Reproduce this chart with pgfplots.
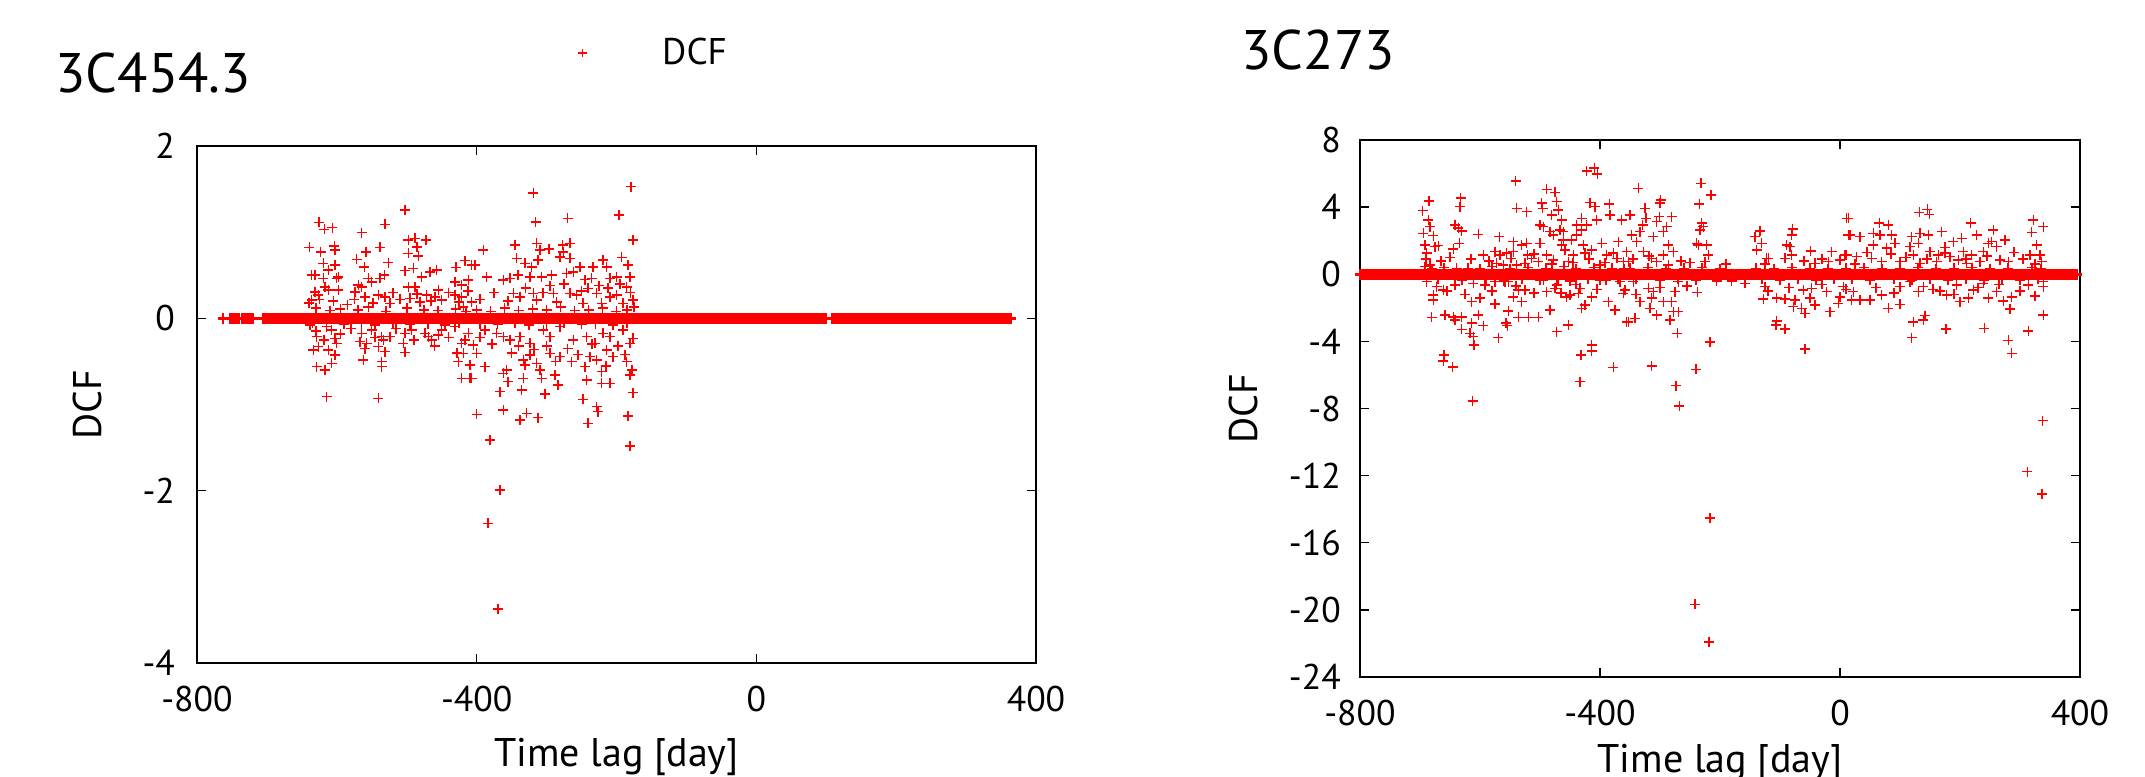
\documentclass[border=0pt]{standalone}
\usepackage{fontspec}
\setmainfont{PT Sans}
\usepackage{pgfplots}
\pgfplotsset{compat=1.18}
\definecolor{dcfred}{RGB}{255,0,0}
\begin{document}
\begin{tikzpicture}[x=1pt,y=1pt]
\pgfplotsset{
  dcfstyle/.style={
    scale only axis,
    axis line style={line width=0.5pt},
    tick align=inside, tick pos=both,
    major tick length=3pt,
    every tick/.style={black,line width=0.5pt},
    xmin=-800,xmax=400, xtick={-800,-400,0,400},
    tick label style={font=\fontsize{12.5}{14}\selectfont},
    /pgf/number format/assume math mode=true,
    xticklabel style={yshift=-4.5pt},
    label style={font=\fontsize{14}{16}\selectfont},
    xlabel={Time lag [day]},
    ylabel={DCF},
  },
  dcfmark/.style={only marks, mark=+, mark size=1.75pt, color=dcfred, mark options={line width=0.55pt}},
  dcfband/.style={only marks, mark=+, mark size=1.85pt, color=dcfred, mark options={line width=0.9pt}, forget plot},
}
\begin{axis}[dcfstyle,
  at={(68.95pt,39.55pt)}, anchor=south west, width=293.65pt, height=180.95pt,
  ymin=-4, ymax=2, ytick={-4,-2,0,2},
  yticklabel style={xshift=-4.2pt},
  ylabel style={at={(axis description cs:-0.13,0.5)}, anchor=center},
  xlabel style={at={(axis description cs:0.5,-0.2)}, anchor=base},
  legend style={at={(axis description cs:0.4289,1.18)}, anchor=west, draw=none, fill=none,
    inner sep=0pt, nodes={inner sep=1pt}, font=\fontsize{13}{15}\selectfont},
  legend image code/.code={\path (0cm,0cm) (1.24cm,0cm); \draw[#1, mark size=1.45pt, mark options={line width=0.45pt}] plot coordinates {(0.3cm,0cm)};},
]
\addplot[dcfband] coordinates {
(-763,0)(-752,0)(-749,0)(-746,0)(-743,0)(-740,0)(-735,0)(-732,0)(-729,0)(-726,0)(-723,0)(-720,0)
(-705,0)(-702,0)(-699,0)(-696,0)(-693,0)(-690,0)(-687,0)(-684,0)(-681,0)(-678,0)
(-675,0)(-672,0)(-669,0)(-666,0)(-663,0)(-660,0)(-657,0)(-654,0)(-651,0)(-648,0)
(-645,0)(-642,0)(-639,0)(-636,0)(-633,0)(-630,0)(-627,0)(-624,0)(-621,0)(-618,0)
(-615,0)(-612,0)(-609,0)(-606,0)(-603,0)(-600,0)(-597,0)(-594,0)(-591,0)(-588,0)
(-585,0)(-582,0)(-579,0)(-576,0)(-573,0)(-570,0)(-567,0)(-564,0)(-561,0)(-558,0)
(-555,0)(-552,0)(-549,0)(-546,0)(-543,0)(-540,0)(-537,0)(-534,0)(-531,0)(-528,0)
(-525,0)(-522,0)(-519,0)(-516,0)(-513,0)(-510,0)(-507,0)(-504,0)(-501,0)(-498,0)
(-495,0)(-492,0)(-489,0)(-486,0)(-483,0)(-480,0)(-477,0)(-474,0)(-471,0)(-468,0)
(-465,0)(-462,0)(-459,0)(-456,0)(-453,0)(-450,0)(-447,0)(-444,0)(-441,0)(-438,0)
(-435,0)(-432,0)(-429,0)(-426,0)(-423,0)(-420,0)(-417,0)(-414,0)(-411,0)(-408,0)
(-405,0)(-402,0)(-399,0)(-396,0)(-393,0)(-390,0)(-387,0)(-384,0)(-381,0)(-378,0)
(-375,0)(-372,0)(-369,0)(-366,0)(-363,0)(-360,0)(-357,0)(-354,0)(-351,0)(-348,0)
(-345,0)(-342,0)(-339,0)(-336,0)(-333,0)(-330,0)(-327,0)(-324,0)(-321,0)(-318,0)
(-315,0)(-312,0)(-309,0)(-306,0)(-303,0)(-300,0)(-297,0)(-294,0)(-291,0)(-288,0)
(-285,0)(-282,0)(-279,0)(-276,0)(-273,0)(-270,0)(-267,0)(-264,0)(-261,0)(-258,0)
(-255,0)(-252,0)(-249,0)(-246,0)(-243,0)(-240,0)(-237,0)(-234,0)(-231,0)(-228,0)
(-225,0)(-222,0)(-219,0)(-216,0)(-213,0)(-210,0)(-207,0)(-204,0)(-201,0)(-198,0)
(-195,0)(-192,0)(-189,0)(-186,0)(-183,0)(-180,0)(-177,0)(-174,0)(-171,0)(-168,0)
(-165,0)(-162,0)(-159,0)(-156,0)(-153,0)(-150,0)(-147,0)(-144,0)(-141,0)(-138,0)
(-135,0)(-132,0)(-129,0)(-126,0)(-123,0)(-120,0)(-117,0)(-114,0)(-111,0)(-108,0)
(-105,0)(-102,0)(-99,0)(-96,0)(-93,0)(-90,0)(-87,0)(-84,0)(-81,0)(-78,0)
(-75,0)(-72,0)(-69,0)(-66,0)(-63,0)(-60,0)(-57,0)(-54,0)(-51,0)(-48,0)
(-45,0)(-42,0)(-39,0)(-36,0)(-33,0)(-30,0)(-27,0)(-24,0)(-21,0)(-18,0)
(-15,0)(-12,0)(-9,0)(-6,0)(-3,0)(0,0)(3,0)(6,0)(9,0)(12,0)
(15,0)(18,0)(21,0)(24,0)(27,0)(30,0)(33,0)(36,0)(39,0)(42,0)
(45,0)(48,0)(51,0)(54,0)(57,0)(60,0)(63,0)(66,0)(69,0)(72,0)
(75,0)(78,0)(81,0)(84,0)(87,0)(90,0)(93,0)(96,0)(99,0)
(109,0)(112,0)(115,0)(118,0)(121,0)(124,0)(127,0)(130,0)(133,0)(136,0)
(139,0)(142,0)(145,0)(148,0)(151,0)(154,0)(157,0)(160,0)(163,0)(166,0)
(169,0)(172,0)(175,0)(178,0)(181,0)(184,0)(187,0)(190,0)(193,0)(196,0)
(199,0)(202,0)(205,0)(208,0)(211,0)(214,0)(217,0)(220,0)(223,0)(226,0)
(229,0)(232,0)(235,0)(238,0)(241,0)(244,0)(247,0)(250,0)(253,0)(256,0)
(259,0)(262,0)(265,0)(268,0)(271,0)(274,0)(277,0)(280,0)(283,0)(286,0)
(289,0)(292,0)(295,0)(298,0)(301,0)(304,0)(307,0)(310,0)(313,0)(316,0)
(319,0)(322,0)(325,0)(328,0)(331,0)(334,0)(337,0)(340,0)(343,0)(346,0)
(349,0)(352,0)(355,0)(358,0)(361,0)(364,0)
};
\addplot[dcfmark] coordinates {
(-502.5,1.257)(-625.5,1.114)(-617.9,1.033)(-606.4,1.052)(-564.5,0.994)(-531.1,1.091)(-639.3,0.824)(-623.1,0.773)(-602.6,0.793)(-603.5,0.839)(-558.3,0.773)(-538.2,0.824)(-497.7,0.909)(-488.2,0.928)(-472.5,0.909)(-485.3,0.831)(-483.4,0.723)(-497.7,0.754)(-571.6,0.684)(-526.3,0.646)(-560.6,0.599)(-416.7,0.669)(-429.6,0.592)(-407.1,0.619)(-619.3,0.638)(-602.6,0.619)(-612.1,0.561)(-636,0.503)(-631.2,0.503)(-619.3,0.464)(-597.8,0.483)(-600.2,0.464)(-532,0.503)(-538.2,0.464)(-554.9,0.464)(-502.5,0.553)(-490.6,0.58)(-478.7,0.483)(-466.7,0.541)(-457.2,0.561)(-569.2,0.387)(-564.5,0.367)(-550.2,0.425)(-616.9,0.367)(-612.1,0.329)(-597.8,0.329)(-631.2,0.309)(-626.4,0.27)(-636,0.212)(-574,0.309)(-559.7,0.251)(-540.6,0.27)(-531.1,0.251)(-524,0.174)(-497.7,0.367)(-488.2,0.367)(-495.3,0.232)(-481,0.193)(-471.5,0.27)(-459.6,0.251)(-454.8,0.329)(-450,0.212)(-431,0.425)(-421.4,0.387)(-411.9,0.445)(-431,0.27)(-421.4,0.251)(-407.1,0.193)(-419,0.135)
(-630,0.12)(-610,0.09)(-595,0.11)(-570,0.1)(-555,0.13)(-530,0.08)(-500,0.12)(-475,0.1)(-455,0.09)(-430,0.11)(-415,0.08)
(-638.3,-0.078)(-628.8,-0.213)(-626.4,-0.329)(-633.6,-0.368)(-612.1,-0.368)(-602.6,-0.232)(-600.2,-0.29)(-614.5,-0.097)(-607.4,-0.136)(-602.6,-0.426)(-628.8,-0.561)(-616.9,-0.6)(-607.4,-0.522)(-614.5,-0.909)(-540.6,-0.929)(-564.5,-0.174)(-566.8,-0.271)(-557.3,-0.29)(-540.6,-0.329)(-535.9,-0.213)(-524,-0.213)(-533.5,-0.252)(-531.1,-0.387)(-562.1,-0.484)(-535.9,-0.503)(-535.9,-0.561)(-550.2,-0.136)(-502.5,-0.174)(-504.9,-0.29)(-502.5,-0.395)(-493,-0.136)(-473.9,-0.174)(-469.1,-0.213)(-464.4,-0.252)(-454.8,-0.194)(-450,-0.136)(-431,-0.097)(-421.4,-0.29)(-416.7,-0.252)(-411.9,-0.174)(-419,-0.406)(-426.2,-0.503)(-409.5,-0.542)(-421.4,-0.697)(-407.1,-0.697)
(-635,-0.05)(-615,-0.06)(-590,-0.07)(-565,-0.05)(-545,-0.08)(-520,-0.06)(-495,-0.07)(-470,-0.06)(-445,-0.08)(-425,-0.05)
(-319,1.458)(-179.4,1.528)(-315.7,1.121)(-269.9,1.16)(-196.5,1.199)(-176,0.909)(-390.5,0.793)(-345.2,0.851)(-314.3,0.87)(-309.5,0.793)(-296.6,0.804)(-277.1,0.851)(-276.1,0.773)(-266.6,0.87)(-280.9,0.715)(-266.6,0.696)(-402.4,0.619)(-342.9,0.696)(-331,0.638)(-321.4,0.599)(-311.9,0.677)(-385.8,0.483)(-361.9,0.445)(-352.4,0.464)(-340.5,0.503)(-323.8,0.483)(-307.1,0.483)(-292.8,0.503)(-271.4,0.522)(-261.8,0.541)(-252.3,0.599)(-233.2,0.599)(-218.9,0.677)(-214.2,0.599)(-192.7,0.708)(-183.2,0.619)(-235.6,0.464)(-209.4,0.464)(-199.8,0.483)(-180.8,0.483)(-347.6,0.29)(-338.1,0.251)(-319,0.29)(-314.3,0.212)(-290.4,0.29)(-285.7,0.193)(-266.6,0.29)(-257.1,0.27)(-247.5,0.174)(-240.4,0.348)(-228.5,0.29)(-221.3,0.174)(-209.4,0.251)(-199.8,0.27)(-190.3,0.174)(-176,0.212)(-174.6,0.135)(-185.5,0.367)
(-400,0.1)(-380,0.08)(-360,0.12)(-340,0.09)(-320,0.11)(-300,0.1)(-280,0.13)(-260,0.09)(-240,0.1)(-220,0.12)(-200,0.08)(-185,0.1)
(-388.1,-0.136)(-371.5,-0.174)(-361.9,-0.213)(-352.4,-0.252)(-338.1,-0.213)(-323.8,-0.29)(-304.7,-0.136)(-295.2,-0.213)(-280.9,-0.097)(-261.8,-0.252)(-242.8,-0.213)(-230.8,-0.29)(-218.9,-0.174)(-209.4,-0.213)(-190.3,-0.136)(-180.8,-0.29)(-176,-0.232)(-404.8,-0.31)(-400.1,-0.406)(-388.1,-0.561)(-361.9,-0.638)(-357.2,-0.6)(-333.3,-0.484)(-330.9,-0.542)(-323.8,-0.426)(-314.3,-0.522)(-309.5,-0.6)(-295.2,-0.406)(-280.9,-0.445)(-264.2,-0.503)(-245.1,-0.561)(-238,-0.445)(-228.5,-0.484)(-221.3,-0.619)(-214.2,-0.368)(-204.6,-0.445)(-185.5,-0.503)(-409.6,-0.697)(-354.8,-0.735)(-333.3,-0.697)(-307.1,-0.697)(-288,-0.658)(-283.3,-0.774)(-242.8,-0.716)(-221.3,-0.755)(-209.4,-0.755)(-180.8,-0.658)(-366.7,-0.851)(-335.7,-0.832)(-302.3,-0.878)(-247.5,-0.94)(-176,-0.863)(-400.1,-1.114)(-361.9,-1.064)(-328.6,-1.103)(-338.1,-1.18)(-311.9,-1.153)(-228.5,-1.025)(-226.1,-1.083)(-240.4,-1.219)(-183.2,-1.134)
(-395,-0.06)(-370,-0.07)(-345,-0.05)(-325,-0.08)(-300,-0.06)(-275,-0.05)(-250,-0.07)(-230,-0.06)(-205,-0.08)(-185,-0.05)
(-381,-1.41)(-367,-1.99)(-384,-2.38)(-369.5,-3.37)(-180.7,-1.48)
(-640,0.18)(-625,0.22)(-605,0.2)(-585,0.16)(-575,0.22)(-548,0.18)(-520,0.3)(-510,0.22)(-485,0.28)(-465,0.2)(-440,0.3)(-425,0.19)(-412,0.32)
(-395,0.22)(-375,0.3)(-355,0.2)(-330,0.35)(-305,0.3)(-295,0.38)(-275,0.4)(-250,0.32)(-245,0.45)(-225,0.38)(-212,0.35)(-195,0.4)(-180,0.3)
(-395,-0.22)(-378,-0.3)(-350,-0.4)(-340,-0.32)(-318,-0.36)(-300,-0.32)(-287,-0.5)(-270,-0.35)(-255,-0.42)(-235,-0.3)(-215,-0.55)(-198,-0.32)(-188,-0.42)(-178,-0.6)
(-630,-0.15)(-618,-0.25)(-595,-0.18)(-580,-0.12)(-560,-0.35)(-545,-0.22)(-515,-0.12)(-490,-0.25)(-460,-0.32)(-440,-0.22)(-428,-0.4)
};
\addlegendentry{DCF}
\end{axis}
\begin{axis}[dcfstyle,
  at={(476pt,34.65pt)}, anchor=south west, width=252pt, height=187.95pt,
  ymin=-24, ymax=8, ytick={-24,-20,-16,-12,-8,-4,0,4,8},
  yticklabel style={xshift=-3.2pt},
  ylabel style={at={(axis description cs:-0.1625,0.5)}, anchor=center},
  xlabel style={at={(axis description cs:0.5,-0.178)}, anchor=base},
]
\addplot[dcfband] coordinates {
(-800,0)(-797,0)(-794,0)(-791,0)(-788,0)(-785,0)(-782,0)(-779,0)(-776,0)(-773,0)
(-770,0)(-767,0)(-764,0)(-761,0)(-758,0)(-755,0)(-752,0)(-749,0)(-746,0)(-743,0)
(-740,0)(-737,0)(-734,0)(-731,0)(-728,0)(-725,0)(-722,0)(-719,0)(-716,0)(-713,0)
(-710,0)(-707,0)(-704,0)(-701,0)(-698,0)(-695,0)(-692,0)(-689,0)(-686,0)(-683,0)
(-680,0)(-677,0)(-674,0)(-671,0)(-668,0)(-665,0)(-662,0)(-659,0)(-656,0)(-653,0)
(-650,0)(-647,0)(-644,0)(-641,0)(-638,0)(-635,0)(-632,0)(-629,0)(-626,0)(-623,0)
(-620,0)(-617,0)(-614,0)(-611,0)(-608,0)(-605,0)(-602,0)(-599,0)(-596,0)(-593,0)
(-590,0)(-587,0)(-584,0)(-581,0)(-578,0)(-575,0)(-572,0)(-569,0)(-566,0)(-563,0)
(-560,0)(-557,0)(-554,0)(-551,0)(-548,0)(-545,0)(-542,0)(-539,0)(-536,0)(-533,0)
(-530,0)(-527,0)(-524,0)(-521,0)(-518,0)(-515,0)(-512,0)(-509,0)(-506,0)(-503,0)
(-500,0)(-497,0)(-494,0)(-491,0)(-488,0)(-485,0)(-482,0)(-479,0)(-476,0)(-473,0)
(-470,0)(-467,0)(-464,0)(-461,0)(-458,0)(-455,0)(-452,0)(-449,0)(-446,0)(-443,0)
(-440,0)(-437,0)(-434,0)(-431,0)(-428,0)(-425,0)(-422,0)(-419,0)(-416,0)(-413,0)
(-410,0)(-407,0)(-404,0)(-401,0)(-398,0)(-395,0)(-392,0)(-389,0)(-386,0)(-383,0)
(-380,0)(-377,0)(-374,0)(-371,0)(-368,0)(-365,0)(-362,0)(-359,0)(-356,0)(-353,0)
(-350,0)(-347,0)(-344,0)(-341,0)(-338,0)(-335,0)(-332,0)(-329,0)(-326,0)(-323,0)
(-320,0)(-317,0)(-314,0)(-311,0)(-308,0)(-305,0)(-302,0)(-299,0)(-296,0)(-293,0)
(-290,0)(-287,0)(-284,0)(-281,0)(-278,0)(-275,0)(-272,0)(-269,0)(-266,0)(-263,0)
(-260,0)(-257,0)(-254,0)(-251,0)(-248,0)(-245,0)(-242,0)(-239,0)(-236,0)(-233,0)
(-230,0)(-227,0)(-224,0)(-221,0)(-218,0)(-215,0)(-212,0)(-209,0)(-206,0)(-203,0)
(-200,0)(-197,0)(-194,0)(-191,0)(-188,0)(-185,0)(-182,0)(-179,0)(-176,0)(-173,0)
(-170,0)(-167,0)(-164,0)(-161,0)(-158,0)(-155,0)(-152,0)(-149,0)(-146,0)(-143,0)
(-140,0)(-137,0)(-134,0)(-131,0)(-128,0)(-125,0)(-122,0)(-119,0)(-116,0)(-113,0)
(-110,0)(-107,0)(-104,0)(-101,0)(-98,0)(-95,0)(-92,0)(-89,0)(-86,0)(-83,0)
(-80,0)(-77,0)(-74,0)(-71,0)(-68,0)(-65,0)(-62,0)(-59,0)(-56,0)(-53,0)
(-50,0)(-47,0)(-44,0)(-41,0)(-38,0)(-35,0)(-32,0)(-29,0)(-26,0)(-23,0)
(-20,0)(-17,0)(-14,0)(-11,0)(-8,0)(-5,0)(-2,0)(1,0)(4,0)(7,0)
(10,0)(13,0)(16,0)(19,0)(22,0)(25,0)(28,0)(31,0)(34,0)(37,0)
(40,0)(43,0)(46,0)(49,0)(52,0)(55,0)(58,0)(61,0)(64,0)(67,0)
(70,0)(73,0)(76,0)(79,0)(82,0)(85,0)(88,0)(91,0)(94,0)(97,0)
(100,0)(103,0)(106,0)(109,0)(112,0)(115,0)(118,0)(121,0)(124,0)(127,0)
(130,0)(133,0)(136,0)(139,0)(142,0)(145,0)(148,0)(151,0)(154,0)(157,0)
(160,0)(163,0)(166,0)(169,0)(172,0)(175,0)(178,0)(181,0)(184,0)(187,0)
(190,0)(193,0)(196,0)(199,0)(202,0)(205,0)(208,0)(211,0)(214,0)(217,0)
(220,0)(223,0)(226,0)(229,0)(232,0)(235,0)(238,0)(241,0)(244,0)(247,0)
(250,0)(253,0)(256,0)(259,0)(262,0)(265,0)(268,0)(271,0)(274,0)(277,0)
(280,0)(283,0)(286,0)(289,0)(292,0)(295,0)(298,0)(301,0)(304,0)(307,0)
(310,0)(313,0)(316,0)(319,0)(322,0)(325,0)(328,0)(331,0)(334,0)(337,0)
(340,0)(343,0)(346,0)(349,0)(352,0)(355,0)(358,0)(361,0)(364,0)(367,0)
(370,0)(373,0)(376,0)(379,0)(382,0)(385,0)(388,0)(391,0)(394,0)
};
\addplot[dcfmark] coordinates {
(-422.2,6.16)(-409.4,6.32)(-404.4,5.96)(-540.5,5.56)(-488.9,5.06)(-475,4.88)(-685,4.37)(-632.2,4.53)(-633.3,4.03)(-695.5,3.79)(-538.9,3.93)(-522.2,3.73)(-497.2,4.23)(-495.5,3.93)(-472.2,4.33)(-469.4,3.83)(-480.5,3.53)(-463.9,3.24)(-416.7,4.27)(-408.3,4.03)(-384.4,4.17)(-383.3,3.53)(-363.9,3.24)(-405.5,3.24)(-422.2,2.94)(-430.5,3.33)(-686.1,3.24)(-683.3,2.84)(-694.4,2.44)(-677.8,2.3)(-641.7,2.94)(-636.1,2.74)(-630.5,2.58)(-602.8,2.38)(-567.7,2.24)(-500,2.94)(-494.4,2.84)(-483.3,2.54)(-466.7,2.64)(-477.8,2.34)(-461.1,2.54)(-461.1,2.04)(-447.2,2.04)(-438.9,2.94)(-438.9,2.34)(-430.5,2.64)(-691.6,1.75)(-688.9,1.25)(-675,1.65)(-669.4,1.71)(-644.4,1.51)(-634.4,1.84)(-594.4,1.15)(-575,1.35)(-566.7,1.15)(-555.5,1.25)(-544.4,1.35)(-544.4,1.94)(-530.5,1.75)(-522.2,1.84)(-520.5,1.15)(-500,1.84)(-502.8,0.75)(-488.9,1.15)(-477.8,0.85)(-463.9,1.75)(-458.3,1.45)(-452.8,0.75)(-444.4,1.15)(-427.8,1.75)(-425,1.25)(-413.9,1.45)(-397.2,1.84)(-388.9,1.15)(-377.8,1.25)(-369.4,1.94)(-355.6,1.35)(-361.1,0.75)(-400,0.55)(-572.2,0.65)(-561.1,0.55)(-538.9,0.55)(-525,0.65)(-513.9,0.95)(-691.6,0.45)(-683.3,0.55)(-638.9,0.35)
(-688.9,-0.44)(-672.2,-0.74)(-661.1,-0.94)(-677.8,-1.24)(-677.8,-1.53)(-641.7,-0.64)(-611.1,-0.54)(-591.6,-0.64)(-575,-0.44)(-558.3,-0.44)(-552.8,-0.44)(-613.9,-1.63)(-600,-1.43)(-575,-1.77)(-544.4,-1.34)(-536.1,-0.94)(-525,-0.94)(-530.5,-1.63)(-494.4,-0.34)(-488.9,-1.04)(-475,-0.84)(-472.2,-0.64)(-455.6,-1.34)(-450,-1.24)(-433.3,-0.84)(-436.1,-1.14)(-413.9,-1.34)(-430.5,-2.03)(-425,-1.83)(-400,-0.34)(-386.1,-1.63)(-375,-2.13)(-366.7,-0.44)(-361.1,-1.14)(-680.5,-2.57)(-658.3,-2.43)(-644.4,-2.53)(-641.7,-2.73)(-630.5,-2.53)(-602.8,-2.43)(-613.9,-2.92)(-594.4,-3.06)(-630.5,-3.28)(-616.7,-3.52)(-611.1,-3.72)(-610,-4.22)(-569.4,-3.78)(-556.6,-2.92)(-554.4,-3.06)(-552.8,-2.19)(-536.1,-2.57)(-519.4,-2.57)(-502.8,-2.57)(-483.3,-2.13)(-472.2,-3.42)(-452.8,-3.02)(-660,-4.81)(-661.1,-5.17)(-645.6,-5.51)(-612.2,-7.55)(-431.6,-4.81)(-413.9,-4.22)(-413.9,-4.57)(-433.3,-6.4)(-377.8,-5.55)(-352.8,-2.83)
(-680,0.3)(-660,0.4)(-620,0.35)(-600,0.3)(-580,0.45)(-550,0.3)(-520,0.4)(-490,0.35)(-460,0.45)(-440,0.3)(-410,0.4)(-380,0.35)(-360,0.3)(-670,-0.3)(-630,-0.35)(-590,-0.3)(-560,-0.4)(-530,-0.3)(-500,-0.35)(-470,-0.3)(-450,-0.4)(-420,-0.3)(-390,-0.35)(-370,-0.3)
(-336.1,5.12)(-231.7,5.42)(-215,4.73)(-234.5,4.17)(-298.9,4.43)(-300,4.23)(-325,3.93)(-350,3.53)(-363.9,3.24)(-230.6,3.04)(-227.8,2.84)(-233.3,2.64)(-301.1,3.43)(-305.6,3.14)(-280.6,3.43)(-323.4,3.33)(-328.9,2.94)(-288.9,2.84)(-294.4,2.54)(-311.1,2.24)(-333.3,2.54)(-347.2,2.34)(-238.9,1.84)(-236.1,1.75)(-222.2,1.75)(-219.5,1.15)(-225,0.75)(-286.1,1.75)(-277.8,1.35)(-294.4,1.15)(-327.8,1.35)(-338.9,1.94)(-355.6,1.35)(-352.8,0.75)(-313.9,0.95)(-305.6,0.75)(-286.1,0.55)(-133.4,2.58)(-141.7,2.24)(-130.6,1.84)(-138.9,1.45)(-122.2,0.95)(-119.5,0.95)(-78.9,2.7)(-80.6,2.34)(-88.9,1.75)(-83.3,1.65)(-91.7,0.95)(-80.6,1.15)(-48.9,1.39)(-41.7,0.65)(-13.9,1.35)(-19.4,0.75)(-0.1,0.85)(11.1,1.15)(11.1,3.33)(13.9,2.34)
(-358.4,-0.94)(-344.5,-0.44)(-333.4,-1.63)(-313.9,-1.43)(-319.5,-0.84)(-311.1,-1.04)(-305.6,-2.43)(-316.7,-2.03)(-294.4,-1.63)(-280.6,-1.63)(-277.8,-2.23)(-269.5,-2.23)(-275,-1.04)(-269.5,-0.44)(-341.7,-2.63)(-355.6,-2.83)(-283.4,-2.73)(-237.8,-1.08)(-205.6,-0.4)(-180.6,-0.4)(-158.4,-0.54)(-125,-0.74)(-127.8,-1.47)(-105.6,-1.43)(-91.7,-1.47)(-77.8,-1.93)(-75,-1.53)(-61.1,-0.94)(-50,-1.43)(-63.9,-2.03)(-58.3,-2.33)(-47.2,-0.84)(-41.7,-1.83)(-22.2,-1.04)(-16.7,-2.23)(0,-1.34)(-2.8,-1.73)(-105.6,-2.79)(-106.7,-3.02)(-91.7,-3.26)(-58.3,-4.47)(-271.1,-3.52)(-216.7,-4.02)(-313.9,-5.45)(-240,-5.67)(-273.4,-6.64)(-267.8,-7.85)
(-216.7,-14.54)(-241.8,-19.67)(-218,-21.9)
(-350,0.35)(-320,0.4)(-290,0.3)(-260,0.35)(-230,0.4)(-200,0.3)(-140,0.35)(-110,0.3)(-80,0.4)(-50,0.35)(-20,0.3)(-340,-0.3)(-300,-0.35)(-270,-0.3)(-240,-0.35)(-130,-0.3)(-100,-0.35)(-70,-0.3)(-40,-0.35)(-10,-0.3)
(132.2,3.69)(145.6,3.87)(148.9,3.57)(13.9,3.33)(217.8,3.04)(338.9,2.84)(322.2,3.24)(16.7,2.34)(33.3,2.24)(55.6,2.44)(65.6,3.04)(80.6,2.94)(66.7,2.34)(86.1,2.34)(119.4,2.24)(133.3,2.44)(147.2,2.34)(169.4,2.54)(188.9,1.94)(202.8,2.14)(227.8,2.34)(255.6,2.64)(252.8,1.94)(275,2.04)(319.5,2.5)(55.6,1.75)(77.8,1.55)(91.7,1.84)(116.7,1.65)(130.6,1.84)(150,1.35)(163.9,1.15)(175,1.25)(205.6,1.35)(219.5,1.15)(238.9,1.35)(261.1,1.65)(247.2,1.84)(327.8,1.75)(316.7,1.15)(333.4,1.15)(8.3,1.15)(27.8,1.05)(52.8,0.95)(69.5,0.75)(100,0.75)(122.2,1.15)(133.3,0.65)(161.1,0.75)(183.3,1.05)(197.2,0.85)(211.1,0.65)(233.4,0.75)(266.7,0.85)(280.6,0.75)(336.1,0.75)
(5.6,-0.74)(22.2,-1.04)(19.4,-1.53)(33.3,-1.53)(50,-1.53)(69.5,-1.24)(80.6,-2.03)(100,-0.74)(100,-1.79)(116.7,-0.44)(130.6,-1.04)(138.9,-0.74)(166.7,-1)(177.8,-1.24)(194.5,-0.64)(200,-1.63)(213.9,-1.43)(222.2,-0.94)(238.9,-0.54)(247.2,-1.43)(261.1,-1.04)(272.2,-1.59)(283.3,-2.07)(286.1,-1.34)(313.9,-0.64)(338.9,-0.44)(338.9,-0.74)(338.9,-2.43)(122.2,-2.83)(141.7,-2.47)(138.9,-2.73)(119.4,-3.78)(176.7,-3.26)(240.6,-3.22)(280.6,-3.94)(286.1,-4.71)(313.9,-3.38)
(337.8,-8.72)(312.5,-11.76)(336.3,-13.11)
(10,0.35)(40,0.4)(70,0.3)(100,0.35)(130,0.4)(160,0.3)(190,0.35)(220,0.4)(250,0.3)(280,0.35)(320,0.4)(335,0.3)(20,-0.3)(50,-0.35)(90,-0.3)(120,-0.35)(150,-0.3)(180,-0.35)(210,-0.3)(240,-0.35)(270,-0.3)(300,-0.35)(330,-0.3)
(-690,0.9)(-665,0.8)(-650,1.0)(-615,0.9)(-585,0.8)(-548,0.95)(-510,1.2)(-480,0.6)(-445,0.7)(-418,0.9)(-392,0.7)(-372,0.95)(-345,0.9)(-318,1.1)(-265,0.8)(-250,0.7)(-190,0.6)(-125,0.6)(-60,0.8)(-30,0.9)(25,0.6)(45,1.3)(85,1.2)(110,1.0)(145,0.9)(175,1.6)(210,0.9)(245,1.1)(290,1.3)(305,0.9)(325,0.6)
(-655,-1.0)(-625,-1.2)(-580,-1.0)(-540,-0.7)(-510,-1.1)(-465,-1.1)(-440,-0.6)(-405,-0.9)(-340,-1.2)(-300,-0.8)(-255,-0.7)(-120,-1.0)(-85,-0.8)(-30,-0.6)(10,-0.9)(60,-0.8)(90,-1.1)(155,-0.9)(190,-1.2)(230,-0.8)(265,-0.6)(300,-1.0)(325,-1.3)
};
\end{axis}
\node[anchor=base west, inner sep=0pt, font=\fontsize{19.5}{22}\selectfont] at (19.25pt,239.4pt) {3C454.3};
\node[anchor=base west, inner sep=0pt, font=\fontsize{19.5}{22}\selectfont] at (434.35pt,247.45pt) {3C273};
\pgfresetboundingbox
\useasboundingbox (0pt,0pt) rectangle (750.75pt,271.6pt);
\end{tikzpicture}
\end{document}
